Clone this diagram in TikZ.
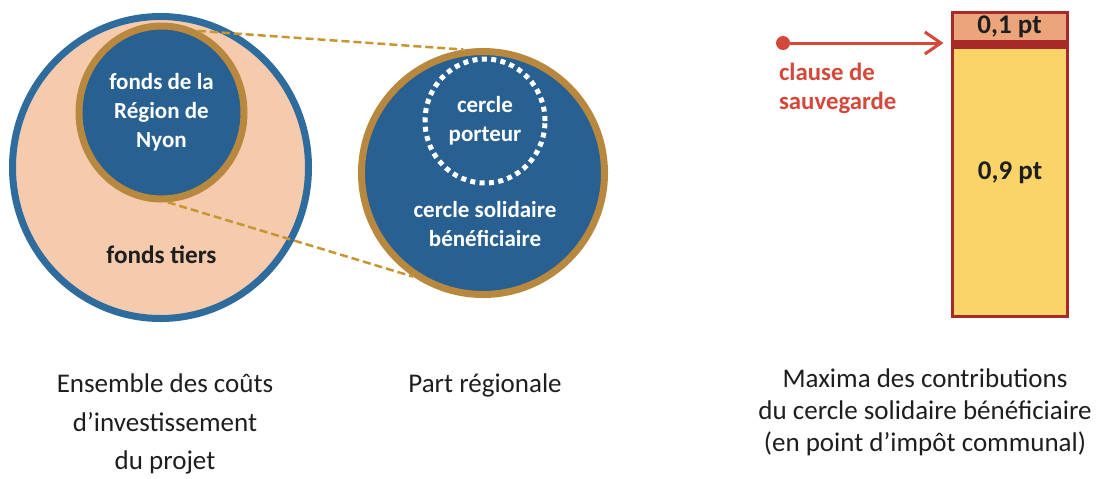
\documentclass[tikz,border=0pt]{standalone}
\usepackage{fontspec}
\setmainfont{Carlito}
\usetikzlibrary{positioning,shapes.geometric,arrows.meta}

\definecolor{discblue}{RGB}{40,96,146}
\definecolor{ringblue}{RGB}{47,108,158}
\definecolor{peach}{RGB}{246,203,173}
\definecolor{ringgold}{RGB}{184,136,62}
\definecolor{linkgold}{RGB}{200,150,48}
\definecolor{clausered}{RGB}{212,72,58}
\definecolor{barred}{RGB}{168,42,40}
\definecolor{topfill}{RGB}{236,164,122}
\definecolor{basefill}{RGB}{250,212,104}
\definecolor{captext}{RGB}{30,30,30}

\begin{document}
\begin{tikzpicture}[x=0.5pt,y=-0.5pt,
  disc/.style={ellipse, inner sep=0pt},
  inlbl/.style={font=\bfseries\fontsize{11.5}{14.5}\selectfont, text=white, align=center},
  caption/.style={font=\fontsize{13.5}{19.25}\selectfont, text=captext, align=center},
  link/.style={linkgold, line width=1.25pt, dash pattern=on 4pt off 2pt},
  cell/.style={rectangle, draw=barred, line width=1.5pt, minimum width=57.5pt, inner sep=0pt}]
\useasboundingbox (0,0) rectangle (1107,478);

  % Define nodes
  \node[disc, fill=peach, draw=ringblue, line width=3.5pt,
        minimum width=148pt, minimum height=151pt]            (all) at (160.5,167.5) {};
  \node[disc, fill=discblue, draw=ringgold, line width=3.5pt,
        minimum width=82.5pt, minimum height=86.5pt, inlbl]   (region) at (161.5,112.5) {fonds de la\\Région de\\Nyon};
  \node[below=18pt of region, font=\bfseries\fontsize{12.6}{14}\selectfont, text=captext] (tiers) {fonds tiers};

  \node[disc, fill=discblue, draw=ringgold, line width=3.5pt,
        minimum width=121.5pt, minimum height=121.5pt]        (share) at (483,173) {};
  \node[disc, draw=white, line width=2.5pt, dash pattern=on 2.5pt off 2.2pt,
        minimum width=60pt, minimum height=62pt, inlbl]       (carrier) at (485,121) {cercle\\porteur};
  \node[below=4.5pt of carrier, inlbl]                        (benef) {cercle solidaire\\bénéficiaire};

  \node[cell, fill=topfill, minimum height=15.25pt,
        font=\bfseries\fontsize{13.5}{14}\selectfont, text=captext] (top) at (1009.5,27.25) {0,1 pt};
  \node[cell, fill=basefill, minimum height=136.25pt, below=0pt of top, outer sep=0pt] (base) {};
  \node[font=\bfseries\fontsize{13.5}{14}\selectfont, text=captext] (n09) at (1010,173) {0,9 pt};

  \node[circle, fill=clausered, minimum size=7pt, inner sep=0pt] (dot) at (783,43) {};
  \node[anchor=west, align=left, text=clausered,
        font=\bfseries\fontsize{12.4}{14.5}\selectfont]       (clause) at (772,88) {clause de\\sauvegarde};

  \node[caption]                                               (capall) at (165,424) {Ensemble des coûts\\d’investissement\\du projet};
  \node[caption]                                               (capshare) at (485,385) {Part régionale};
  \node[caption, font=\fontsize{13.5}{16}\selectfont]          (capmax) at (925,412) {Maxima des contributions\\du cercle solidaire bénéficiaire\\(en point d’impôt communal)};

  % Connect the nodes
  \draw[link] (region.66) -- (share.99);
  \draw[link] (region.274) -- (share.236);
  \draw[barred, line width=4.5pt] (top.south west) -- (top.south east);
  \draw[clausered, line width=1.5pt, -{Straight Barb[length=8pt,width=11pt]}, shorten >=3.5pt]
       (dot) -- (dot -| top.south west);

\end{tikzpicture}
\end{document}
